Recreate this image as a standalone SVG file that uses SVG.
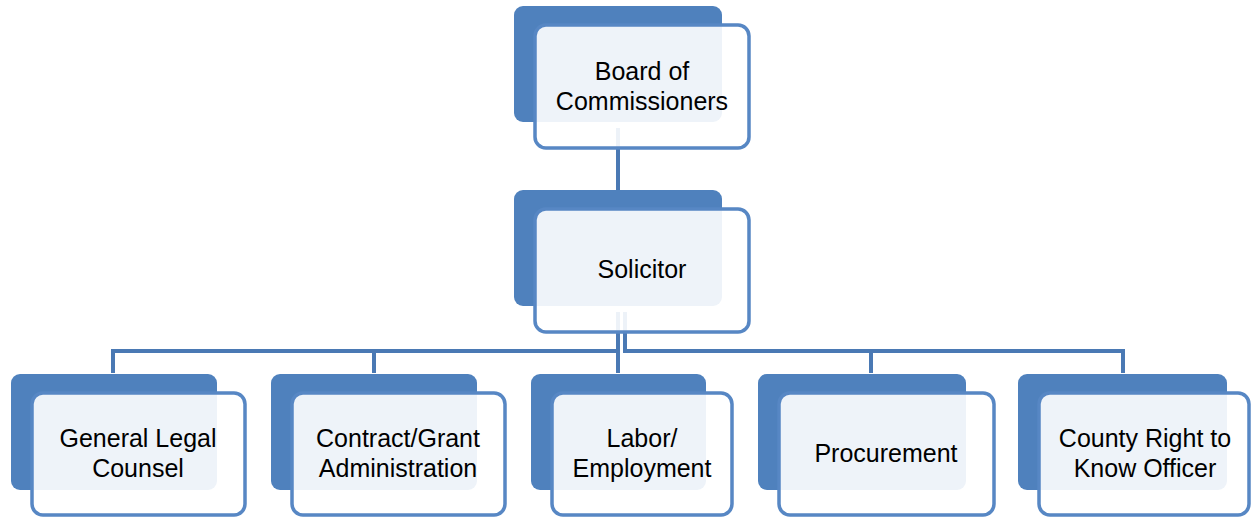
<svg xmlns="http://www.w3.org/2000/svg" width="1252" height="518" viewBox="0 0 1252 518">
<style>
.dark{fill:#4f81bd}
.box{fill:#ffffff;fill-opacity:0.9;stroke:#5787c4;stroke-width:3.5}
.conn{fill:none;stroke:#4a79b4;stroke-width:4}
text{font-family:"Liberation Sans",Arial,sans-serif;font-size:25px;fill:#000;text-anchor:middle}
</style>
<rect width="1252" height="518" fill="#ffffff"/>
<g id="connectors">
<path class="conn" d="M618 128 V190"/>
<path class="conn" d="M618 312 V351 H113 V373"/>
<path class="conn" d="M618 312 V351 H374 V373"/>
<path class="conn" d="M618 312 V373"/>
<path class="conn" d="M625 312 V351 H871 V373"/>
<path class="conn" d="M625 312 V351 H1123 V373"/>
</g>
<g id="board">
<rect class="dark" x="514" y="6" width="208" height="116" rx="9"/>
<rect class="box" x="535" y="25" width="214" height="123" rx="11"/>
<text x="642" y="80">Board of</text>
<text x="642" y="110">Commissioners</text>
</g>
<g id="solicitor">
<rect class="dark" x="514" y="190" width="208" height="116" rx="9"/>
<rect class="box" x="535" y="209" width="214" height="123" rx="11"/>
<text x="642" y="278">Solicitor</text>
</g>
<g id="general">
<rect class="dark" x="11" y="374" width="206" height="116" rx="9"/>
<rect class="box" x="32" y="393" width="213" height="122" rx="11"/>
<text x="138" y="447">General Legal</text>
<text x="138" y="477">Counsel</text>
</g>
<g id="contract">
<rect class="dark" x="271" y="374" width="206" height="116" rx="9"/>
<rect class="box" x="292" y="393" width="213" height="122" rx="11"/>
<text x="398" y="447">Contract/Grant</text>
<text x="398" y="477">Administration</text>
</g>
<g id="labor">
<rect class="dark" x="531" y="374" width="175" height="116" rx="9"/>
<rect class="box" x="552" y="393" width="180" height="122" rx="11"/>
<text x="642" y="447">Labor/</text>
<text x="642" y="477">Employment</text>
</g>
<g id="procurement">
<rect class="dark" x="758" y="374" width="208" height="116" rx="9"/>
<rect class="box" x="779" y="393" width="215" height="122" rx="11"/>
<text x="886" y="462">Procurement</text>
</g>
<g id="county">
<rect class="dark" x="1018" y="374" width="209" height="116" rx="9"/>
<rect class="box" x="1039" y="393" width="210" height="122" rx="11"/>
<text x="1145" y="447">County Right to</text>
<text x="1145" y="477">Know Officer</text>
</g>
</svg>
